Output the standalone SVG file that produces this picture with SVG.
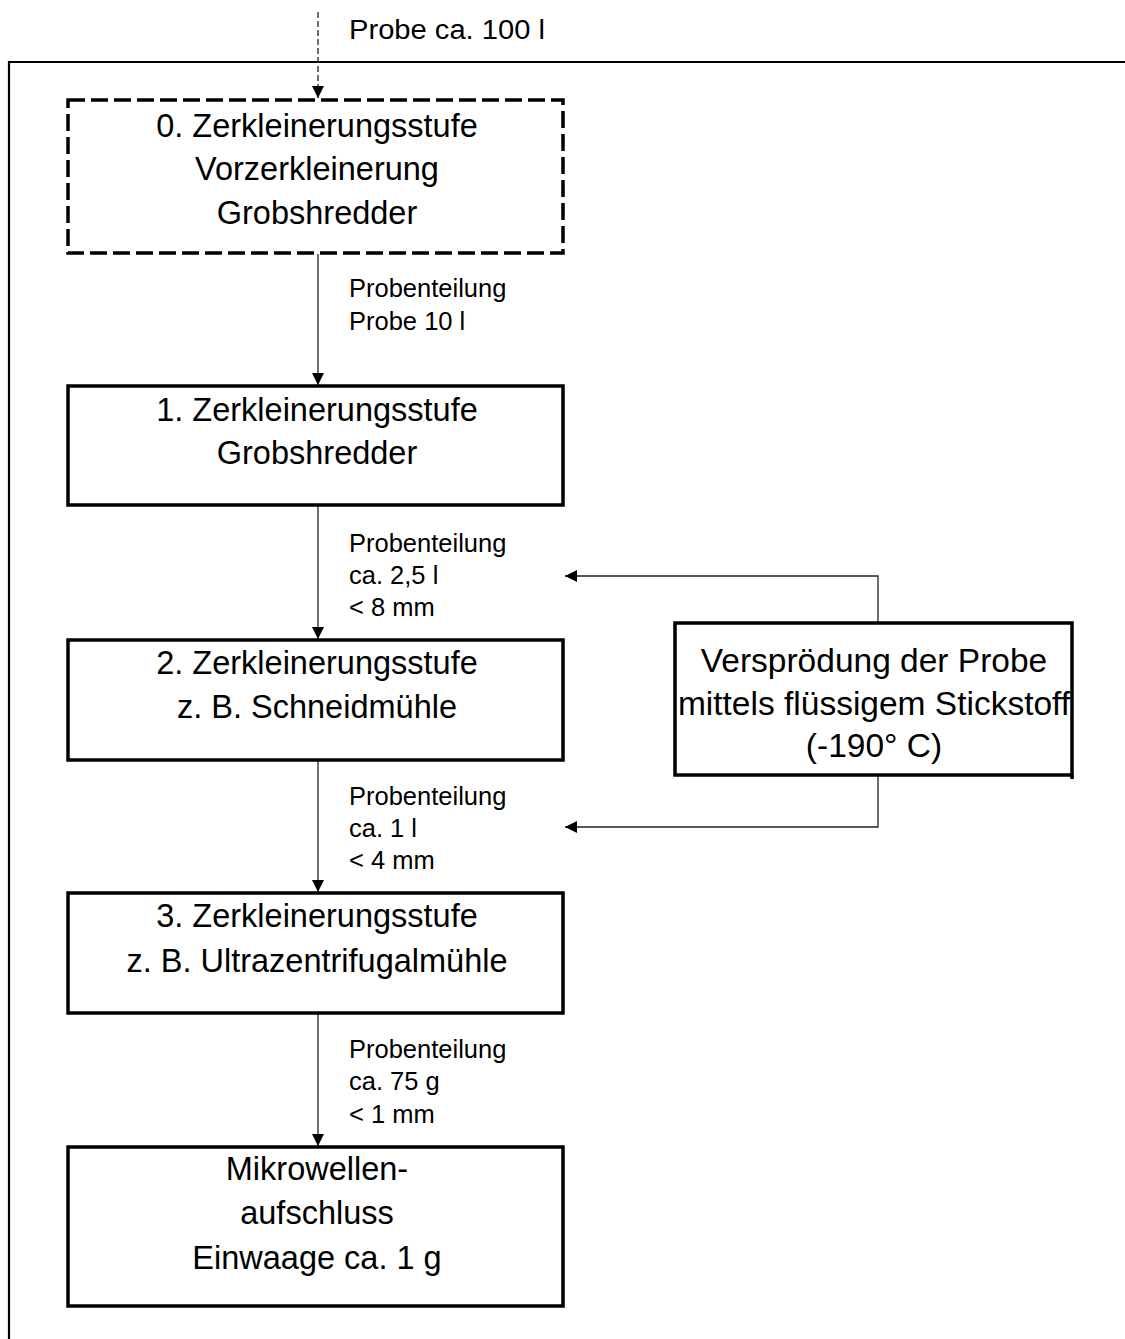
<svg xmlns="http://www.w3.org/2000/svg" width="1125" height="1339" viewBox="0 0 1125 1339">
  <style>
    text { font-family: "Liberation Sans", Arial, sans-serif; fill: #000; }
    .box { fill: #fff; stroke: #000; stroke-width: 3.5; }
    .dashbox { fill: #fff; stroke: #000; stroke-width: 3.5; stroke-dasharray: 17 6; }
    .big { font-size: 32.5px; text-anchor: middle; }
    .side { font-size: 33.5px; text-anchor: middle; }
    .lbl { font-size: 25.5px; }
    .conn { fill: none; stroke: #222; stroke-width: 1.3; }
    .frame { fill: none; stroke: #000; stroke-width: 2.2; }
  </style>
  <defs>
    <marker id="arrow" viewBox="0 0 12 12" refX="12" refY="6" markerWidth="12" markerHeight="12" markerUnits="userSpaceOnUse" orient="auto">
      <path d="M0,0 L12,6 L0,12 Z" fill="#000"/>
    </marker>
  </defs>

  <rect width="1125" height="1339" fill="#fff"/>

  <!-- outer frame: top and left edges only -->
  <path class="frame" d="M1125,62 H9 V1339"/>

  <g id="connectors">
    <path class="conn" d="M318,12 V98" stroke="#000" stroke-width="1.6" stroke-dasharray="6 3" marker-end="url(#arrow)"/>
    <path class="conn" d="M318,254 V385" marker-end="url(#arrow)"/>
    <path class="conn" d="M318,506 V639" marker-end="url(#arrow)"/>
    <path class="conn" d="M318,761 V892" marker-end="url(#arrow)"/>
    <path class="conn" d="M318,1014 V1146" marker-end="url(#arrow)"/>
    <path class="conn" d="M878,623 V576 H565" marker-end="url(#arrow)"/>
    <path class="conn" d="M878,776 V827 H565" marker-end="url(#arrow)"/>
  </g>

  <text class="lbl" x="349" y="39" style="font-size:27px" textLength="196" lengthAdjust="spacingAndGlyphs">Probe ca. 100 l</text>

  <g id="stage0">
    <rect class="dashbox" x="68" y="100" width="495" height="153"/>
    <text class="big" x="317" y="137">0. Zerkleinerungsstufe</text>
    <text class="big" x="317" y="180">Vorzerkleinerung</text>
    <text class="big" x="317" y="224">Grobshredder</text>
  </g>

  <text class="lbl" x="349" y="297">Probenteilung</text>
  <text class="lbl" x="349" y="330">Probe 10 l</text>

  <g id="stage1">
    <rect class="box" x="68" y="386" width="495" height="119"/>
    <text class="big" x="317" y="421">1. Zerkleinerungsstufe</text>
    <text class="big" x="317" y="464">Grobshredder</text>
  </g>

  <text class="lbl" x="349" y="552">Probenteilung</text>
  <text class="lbl" x="349" y="584">ca. 2,5 l</text>
  <text class="lbl" x="349" y="616">&lt; 8 mm</text>

  <g id="stage2">
    <rect class="box" x="68" y="640" width="495" height="120"/>
    <text class="big" x="317" y="674">2. Zerkleinerungsstufe</text>
    <text class="big" x="317" y="718">z. B. Schneidmühle</text>
  </g>

  <g id="embrittlement">
    <rect class="box" x="675" y="623" width="397" height="152"/>
    <line x1="1072" y1="775" x2="1072" y2="779" stroke="#000" stroke-width="3.5"/>
    <text class="side" x="874" y="672">Versprödung der Probe</text>
    <text class="side" x="874" y="715">mittels flüssigem Stickstoff</text>
    <text class="side" x="874" y="757">(-190° C)</text>
  </g>

  <text class="lbl" x="349" y="805">Probenteilung</text>
  <text class="lbl" x="349" y="837">ca. 1 l</text>
  <text class="lbl" x="349" y="869">&lt; 4 mm</text>

  <g id="stage3">
    <rect class="box" x="68" y="893" width="495" height="120"/>
    <text class="big" x="317" y="927">3. Zerkleinerungsstufe</text>
    <text class="big" x="317" y="972">z. B. Ultrazentrifugalmühle</text>
  </g>

  <text class="lbl" x="349" y="1058">Probenteilung</text>
  <text class="lbl" x="349" y="1090">ca. 75 g</text>
  <text class="lbl" x="349" y="1123">&lt; 1 mm</text>

  <g id="digestion">
    <rect class="box" x="68" y="1147" width="495" height="159"/>
    <text class="big" x="317" y="1180">Mikrowellen-</text>
    <text class="big" x="317" y="1224">aufschluss</text>
    <text class="big" x="317" y="1269">Einwaage ca. 1 g</text>
  </g>
</svg>
